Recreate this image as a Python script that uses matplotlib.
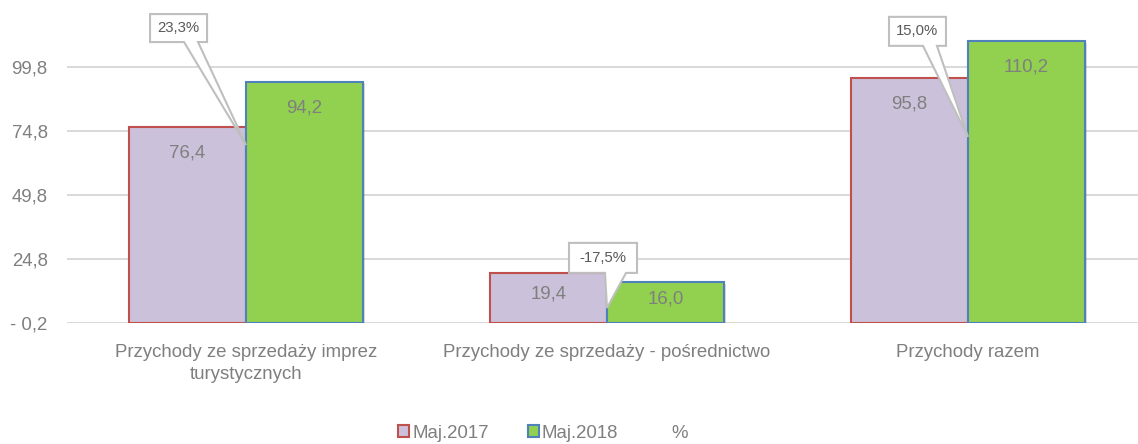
import matplotlib
matplotlib.use('Agg')
import matplotlib.pyplot as plt
import matplotlib.patheffects as pe
import numpy as np
from matplotlib import font_manager
from matplotlib.patches import Patch, Polygon
from matplotlib.transforms import Affine2D, ScaledTranslation

# data
categories = ['Przychody ze sprzedaży imprez\nturystycznych',
              'Przychody ze sprzedaży - pośrednictwo',
              'Przychody razem']
maj_2017 = [76.4, 19.4, 95.8]
maj_2018 = [94.2, 16.0, 110.2]
change_pct = [23.3, -17.5, 15.0]
series_labels = ['Maj.2017', 'Maj.2018', '%']
y_ticks = [-0.2, 24.8, 49.8, 74.8, 99.8]
y_tick_labels = ['- 0,2', '24,8', '49,8', '74,8', '99,8']

def pl(v, fmt='{:.1f}'):
    return fmt.format(v).replace('.', ',')

# font: narrow if we have it
names = {f.name for f in font_manager.fontManager.ttflist}
if 'Liberation Sans Narrow' in names:
    fam, fs = 'Liberation Sans Narrow', 15.5
else:
    fam, fs = 'Liberation Sans', 13.4
plt.rcParams['font.family'] = [fam, 'DejaVu Sans']

grey = '#7f7f7f'
purple, red = '#ccc1da', '#c0504d'
green, blue = '#92d050', '#4f81bd'

fig = plt.figure(figsize=(11.38, 4.44), dpi=100)
ax = fig.add_axes([67 / 1138, 1 - 323 / 444, 1 - 67 / 1138, (323 - 5) / 444])

x = np.arange(len(categories))
w = 0.324
shadow = [pe.SimplePatchShadow(offset=(1.2, -1.2), alpha=0.18), pe.Normal()]
b1 = ax.bar(x - w / 2, maj_2017, w, bottom=-0.2, color=purple, edgecolor=red,
            linewidth=1.5, path_effects=shadow, zorder=2)
b2 = ax.bar(x + w / 2, maj_2018, w, bottom=-0.2, color=green, edgecolor=blue,
            linewidth=1.5, path_effects=shadow, zorder=2)

ax.set_xlim(-0.496, 2.471)
ax.set_ylim(-0.2, 124.0)
ax.set_yticks(y_ticks)
ax.set_yticklabels(y_tick_labels)
ax.set_xticks(x)
ax.set_xticklabels(categories, linespacing=1.4)
ax.tick_params(axis='both', length=0, labelsize=fs, labelcolor=grey)
ax.tick_params(axis='y', pad=14)
ax.tick_params(axis='x', pad=15)
for s in ax.spines.values():
    s.set_visible(False)
ax.yaxis.grid(True, color='#d9d9d9', linewidth=1.4)
ax.set_axisbelow(True)

# value labels inside top of the bars
px_per_unit = ax.transData.transform((0, 1))[1] - ax.transData.transform((0, 0))[1]
for bars, vals in ((b1, maj_2017), (b2, maj_2018)):
    for rect, v in zip(bars, vals):
        h_px = v * px_per_unit
        off = min(26, h_px * 0.42)
        ax.annotate(pl(v), (rect.get_x() + rect.get_width() / 2, v - 0.2),
                    xytext=(0, -off * 0.72), textcoords='offset points',
                    ha='center', va='center', fontsize=fs, color=grey, zorder=4)

# callouts with % change (shape in pixels relative to the tip)
callout_tip_y = [69.3, 5.7, 72.5]
callout_shape = [
    # left, right, top, bottom, wedge base left, wedge base right
    (-96, -39, 131, 103, -62, -48),
    (-38, 30, 65, 35, -2, 19),
    (-79, -22, 120, 91, -45, -31),
]
for xi, ty, pct, (l, r, t, b, wl, wr) in zip(x, callout_tip_y, change_pct, callout_shape):
    tr = Affine2D().scale(fig.dpi / 100) + ScaledTranslation(xi, ty, ax.transData)
    verts = [(l, t), (r, t), (r, b), (wr, b), (0, 0), (wl, b), (l, b)]
    ax.add_patch(Polygon(verts, closed=True, facecolor='white', edgecolor='#bfbfbf',
                         linewidth=1.5, transform=tr, zorder=5, clip_on=False))
    ax.text((l + r) / 2, (t + b) / 2, pl(pct) + '%', transform=tr, ha='center',
            va='center', fontsize=fs * 0.8, color='#595959', zorder=6)

handles = [Patch(facecolor=purple, edgecolor=red, linewidth=1.5),
           Patch(facecolor=green, edgecolor=blue, linewidth=1.5),
           Patch(facecolor='none', edgecolor='none')]
fig.legend(handles, series_labels, loc='center', bbox_to_anchor=(543 / 1138, 1 - 433 / 444),
           ncol=3, frameon=False, fontsize=fs, labelcolor=grey, handlelength=0.6,
           handleheight=0.6, handletextpad=0.15, columnspacing=2.1)

fig.savefig('out.png', dpi=100)
